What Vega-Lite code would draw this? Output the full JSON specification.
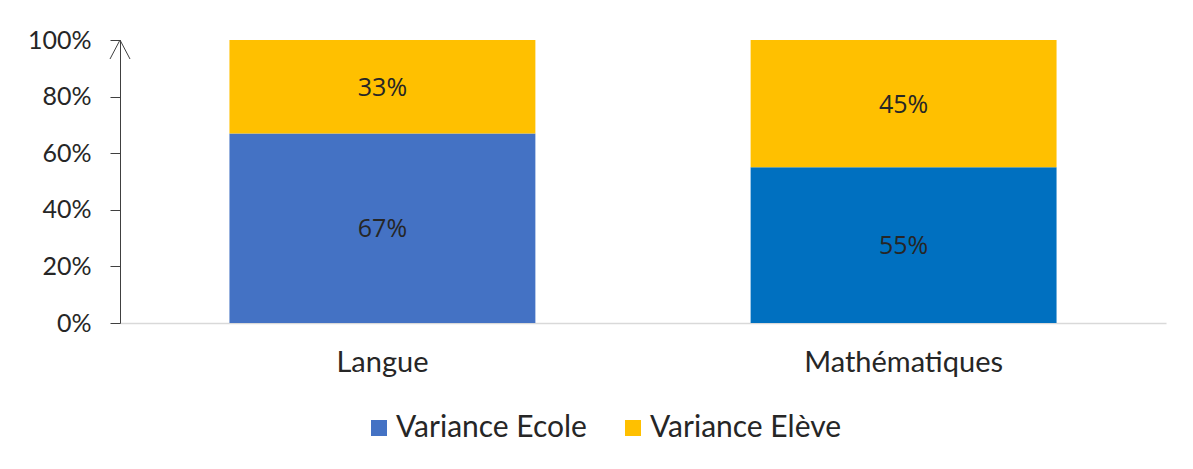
{
  "$schema": "https://vega.github.io/schema/vega-lite/v6.json",
  "autosize": "none",
  "width": 1046,
  "height": 283,
  "padding": {"left": 120, "top": 40, "right": 27, "bottom": 146},
  "background": "white",
  "config": {"view": {"stroke": null}},
  "data": {
    "values": [
      {"matiere": "Langue", "serie": "Variance Ecole", "valeur": 0.67},
      {"matiere": "Langue", "serie": "Variance Elève", "valeur": 0.33},
      {"matiere": "Mathématiques", "serie": "Variance Ecole", "valeur": 0.55},
      {"matiere": "Mathématiques", "serie": "Variance Elève", "valeur": 0.45}
    ]
  },
  "transform": [
    {"stack": "valeur", "groupby": ["matiere"], "sort": [{"field": "serie", "order": "ascending"}], "as": ["v0", "v1"]}
  ],
  "encoding": {
    "x": {
      "field": "matiere", "type": "nominal", "sort": null,
      "scale": {"paddingInner": 0.413, "paddingOuter": 0.21},
      "axis": {
        "title": null, "labelAngle": 0, "ticks": false, "tickSize": 0,
        "labelFont": "Lato", "labelFontSize": 29, "labelColor": "#262626",
        "labelLimit": 0, "labelPadding": 25, "domainColor": "#d9d9d9", "domainWidth": 1.5
      }
    }
  },
  "layer": [
    {
      "mark": {"type": "bar"},
      "encoding": {
        "y": {
          "field": "v0", "type": "quantitative",
          "scale": {"domain": [0, 1], "nice": false},
          "axis": {
            "title": null, "values": [0, 0.2, 0.4, 0.6, 0.8, 1],
            "format": ".0%", "grid": false,
            "labelFont": "Lato", "labelFontSize": 25, "labelColor": "#262626",
            "tickSize": 10, "tickColor": "#404040", "domainColor": "#404040",
            "labelPadding": 19
          }
        },
        "y2": {"field": "v1"},
        "color": {
          "field": "serie", "type": "nominal",
          "condition": {"test": "datum.matiere === 'Mathématiques' && datum.serie === 'Variance Ecole'", "value": "#0070C0"},
          "scale": {"domain": ["Variance Ecole", "Variance Elève"], "range": ["#4472C4", "#FFC000"]},
          "legend": {
            "title": null, "orient": "none", "direction": "horizontal",
            "legendX": 244, "legendY": 373,
            "symbolType": "square", "symbolSize": 256, "symbolStrokeWidth": 0,
            "labelFont": "Lato", "labelFontSize": 30, "labelColor": "#262626",
            "labelLimit": 0, "labelOffset": 2, "columnPadding": 31
          }
        }
      }
    },
    {
      "transform": [
        {"fold": ["v0", "v1"], "as": ["bord", "pos"]}
      ],
      "mark": {"type": "text", "font": "Open Sans", "fontSize": 25, "color": "#262626", "dy": 1},
      "encoding": {
        "y": {"field": "pos", "aggregate": "mean", "type": "quantitative"},
        "detail": {"field": "serie"},
        "text": {"field": "valeur", "type": "quantitative", "format": ".0%"}
      }
    },
    {
      "data": {"values": [{"haut": 1}]},
      "transform": [],
      "mark": {
        "type": "point", "shape": "M-1,1.9L0,0L1,1.9", "size": 400,
        "filled": false, "stroke": "#404040", "strokeWidth": 1, "opacity": 1
      },
      "encoding": {
        "x": {"value": 0},
        "y": {"field": "haut", "type": "quantitative"}
      }
    }
  ]
}
